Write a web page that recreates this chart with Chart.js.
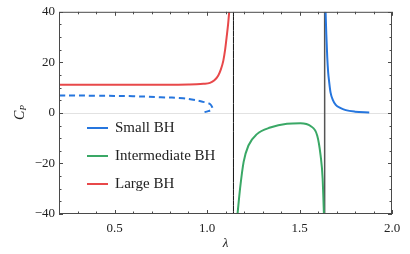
<!DOCTYPE html>
<html>
<head>
<meta charset="utf-8">
<script src="https://cdn.jsdelivr.net/npm/chart.js"></script>
<style>
  html, body { margin: 0; padding: 0; background: #fff; }
  #wrap { width: 410px; height: 254px; }
</style>
</head>
<body>
<div id="wrap"><canvas id="cpChart" width="410" height="254"></canvas></div>
<script>
// values
const largeX = [0.2, 0.4, 0.6, 0.8, 0.9, 0.944, 0.98, 1.016, 1.04, 1.061, 1.075, 1.088, 1.098, 1.106, 1.114, 1.12];
const largeY = [11.1, 11.1, 11.1, 11.1, 11.2, 11.3, 11.5, 11.9, 12.9, 14.8, 17.2, 20.6, 25, 29.9, 35, 40];

const interX = [1.165, 1.179, 1.198, 1.224, 1.27, 1.342, 1.432, 1.505, 1.56, 1.596, 1.614, 1.625, 1.632];
const interY = [-40, -29.8, -19.4, -12.9, -8.4, -5.8, -4.3, -4.1, -5.2, -9, -16.8, -25.9, -40];

const smallX = [1.641, 1.645, 1.65, 1.655, 1.66, 1.668, 1.68, 1.696, 1.72, 1.75, 1.8, 1.877];
const smallY = [40, 31, 22, 16, 12.5, 8, 5.2, 3.2, 2, 1.1, 0.5, 0.2];

// unstable small-BH branch (dashed), turns back near 1.03
const smallDashX = [0.2, 0.4, 0.6, 0.75, 0.871, 0.926, 0.971, 1.0, 1.016, 1.026, 1.029, 1.022, 1.007, 0.976];
const smallDashY = [6.9, 6.8, 6.6, 6.2, 5.8, 5.2, 4.5, 4.0, 3.5, 2.6, 1.6, 1.1, 0.7, 0.1];

const asymptotes = [1.143, 1.636];

const xTicks = [0.5, 1.0, 1.5, 2.0];
const yTicks = [-40, -20, 0, 20, 40];
const xMinor = [0.3, 0.4, 0.6, 0.7, 0.8, 0.9, 1.1, 1.2, 1.3, 1.4, 1.6, 1.7, 1.8, 1.9];
const yMinor = [-35, -30, -25, -15, -10, -5, 5, 10, 15, 25, 30, 35];

const legendLabels = ['Small BH', 'Intermediate BH', 'Large BH'];
const colors = ['rgb(38,118,222)', 'rgb(58,168,102)', 'rgb(232,72,74)'];

const toPts = (xs, ys) => xs.map((x, i) => ({ x: x, y: ys[i] }));
const serif = "'Liberation Serif', 'DejaVu Serif', serif";

const framePlugin = {
    id: 'frame',
    beforeDatasetsDraw(chart) {
        const { ctx, chartArea: a, scales: { y } } = chart;
        ctx.save();
        ctx.strokeStyle = '#e2e2e2';
        ctx.lineWidth = 1;
        const y0 = Math.round(y.getPixelForValue(0)) + 0.5;
        ctx.beginPath();
        ctx.moveTo(a.left, y0);
        ctx.lineTo(a.right, y0);
        ctx.stroke();
        ctx.restore();
    },
    afterDraw(chart) {
        const { ctx, chartArea: a, scales: { x, y } } = chart;
        ctx.save();
        ctx.strokeStyle = '#4a4a4a';
        ctx.lineWidth = 1;
        ctx.strokeRect(a.left + 0.5, a.top + 0.5, a.right - a.left - 1, a.bottom - a.top - 1);

        // inward ticks on all four sides
        ctx.beginPath();
        const tickX = (v, len) => {
            const px = Math.round(x.getPixelForValue(v)) + 0.5;
            ctx.moveTo(px, a.bottom); ctx.lineTo(px, a.bottom - len);
            ctx.moveTo(px, a.top); ctx.lineTo(px, a.top + len);
        };
        const tickY = (v, len) => {
            const py = Math.round(y.getPixelForValue(v)) + 0.5;
            ctx.moveTo(a.left, py); ctx.lineTo(a.left + len, py);
            ctx.moveTo(a.right, py); ctx.lineTo(a.right - len, py);
        };
        xTicks.forEach(v => tickX(v, 4));
        xMinor.forEach(v => tickX(v, 2.5));
        yTicks.forEach(v => tickY(v, 4));
        yMinor.forEach(v => tickY(v, 2.5));
        ctx.stroke();

        // axis titles
        ctx.fillStyle = '#222';
        ctx.textAlign = 'center';
        ctx.textBaseline = 'middle';
        ctx.font = 'italic 13px ' + serif;
        ctx.fillText('λ', (a.left + a.right) / 2, 244);

        ctx.save();
        ctx.translate(20, (a.top + a.bottom) / 2);
        ctx.rotate(-Math.PI / 2);
        ctx.textAlign = 'left';
        ctx.font = 'italic 14px ' + serif;
        const cw = ctx.measureText('C').width;
        ctx.fillText('C', -7, 0);
        ctx.font = 'italic 9px ' + serif;
        ctx.fillText('P', -7 + cw, 4);
        ctx.restore();

        // legend inside the plot
        ctx.font = '15px ' + serif;
        ctx.textAlign = 'left';
        legendLabels.forEach((label, i) => {
            const ly = 128 + i * 28;
            ctx.strokeStyle = colors[i];
            ctx.lineWidth = 2;
            ctx.beginPath();
            ctx.moveTo(87, ly);
            ctx.lineTo(108, ly);
            ctx.stroke();
            ctx.fillStyle = '#222';
            ctx.fillText(label, 115, ly);
        });
        ctx.restore();
    }
};

const lineDs = (data, color, extra) => Object.assign({
    data: data,
    borderColor: color,
    borderWidth: 2,
    pointRadius: 0,
    showLine: true,
    fill: false,
    cubicInterpolationMode: 'monotone'
}, extra || {});

new Chart(document.getElementById('cpChart').getContext('2d'), {
    type: 'scatter',
    data: {
        datasets: [
            lineDs(toPts(smallDashX, smallDashY), colors[0], { borderDash: [6, 4], cubicInterpolationMode: 'default', tension: 0.4 }),
            lineDs(toPts(smallX, smallY), colors[0]),
            lineDs(toPts(interX, interY), colors[1]),
            lineDs(toPts(largeX, largeY), colors[2]),
            lineDs([{ x: asymptotes[0], y: -40 }, { x: asymptotes[0], y: 40 }], '#111', { borderWidth: 1 }),
            lineDs([{ x: asymptotes[1], y: -40 }, { x: asymptotes[1], y: 40 }], '#555', { borderWidth: 1.5 })
        ]
    },
    options: {
        responsive: false,
        animation: false,
        layout: { padding: { top: 7, right: 18, left: 0, bottom: 0 } },
        plugins: {
            legend: { display: false },
            tooltip: { enabled: false }
        },
        scales: {
            x: {
                type: 'linear',
                min: 0.2,
                max: 2.0,
                grid: { display: false, drawTicks: false },
                border: { display: false },
                afterBuildTicks: (scale) => { scale.ticks = xTicks.map(v => ({ value: v })); },
                afterFit: (scale) => { scale.height = 40; },
                ticks: {
                    color: '#222',
                    font: { family: serif, size: 13 },
                    padding: 7,
                    maxRotation: 0,
                    callback: (v) => Number(v).toFixed(1)
                }
            },
            y: {
                min: -40,
                max: 40,
                grid: { display: false, drawTicks: false },
                border: { display: false },
                afterBuildTicks: (scale) => { scale.ticks = yTicks.map(v => ({ value: v })); },
                afterFit: (scale) => { scale.width = 59; },
                ticks: {
                    color: '#222',
                    font: { family: serif, size: 13 },
                    padding: 4,
                    callback: (v) => (v < 0 ? '\u2212' + Math.abs(v) : String(v))
                }
            }
        }
    },
    plugins: [framePlugin]
});
</script>
</body>
</html>
